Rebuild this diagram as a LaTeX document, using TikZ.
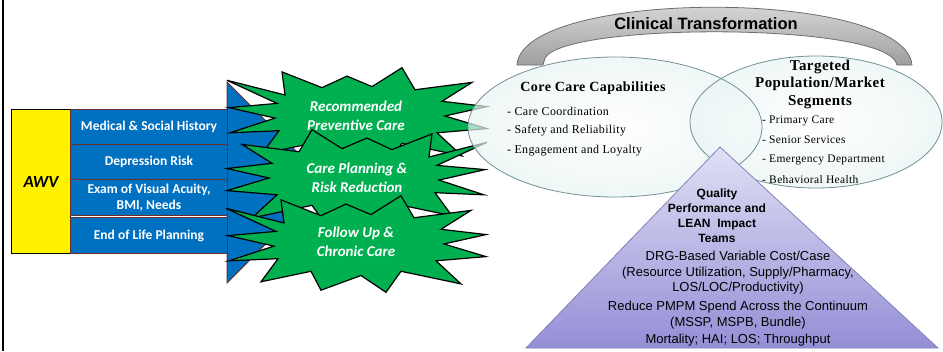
\documentclass[tikz,border=0pt]{standalone}
\usepackage{fontspec}
\setmainfont{Liberation Sans}
\newfontfamily\carl{Carlito}
\newfontfamily\lsans{Liberation Sans}
\newfontfamily\pal[LetterSpace=3]{Liberation Serif}
\definecolor{awvblue}{RGB}{0,112,192}
\definecolor{boxedge}{RGB}{110,45,45}
\definecolor{burstgreen}{RGB}{0,176,80}
\definecolor{ellfill}{RGB}{196,224,226}
\definecolor{ellmid}{RGB}{234,245,245}
\definecolor{elledge}{RGB}{115,145,150}
\definecolor{arcedge}{RGB}{110,110,110}
\definecolor{tritop}{RGB}{224,224,245}
\definecolor{tribot}{RGB}{148,143,214}
\definecolor{triedge}{RGB}{130,130,185}
\pgfdeclareradialshading{ellshade}{\pgfpoint{0bp}{0bp}}{color(0bp)=(white); color(24bp)=(ellmid); color(50bp)=(ellfill); color(100bp)=(ellfill)}
\tikzset{
  rowbox/.style={draw=boxedge, fill=awvblue, line width=1pt, text=white,
    font=\carl\bfseries\fontsize{13.5}{16}\selectfont, align=center,
    inner sep=0pt, minimum width=157pt, anchor=north west},
  awvbox/.style={draw=black, fill=yellow, line width=1pt,
    font=\carl\bfseries\itshape\fontsize{17}{20}\selectfont,
    inner sep=0pt, minimum width=59pt, minimum height=144pt, anchor=north west},
  bursttext/.style={text=white, font=\carl\bfseries\itshape\fontsize{15}{19}\selectfont, align=center, inner sep=0pt},
  burstpath/.style={fill=burstgreen, draw=black, line width=1.2pt, line join=miter},
  ptitle/.style={font=\pal\bfseries\fontsize{14}{17.5}\selectfont, align=center, inner sep=0pt},
  pitem/.style={font=\pal\fontsize{12}{14}\selectfont, anchor=west, inner sep=0pt},
  ritem/.style={pitem, font=\pal\fontsize{11.5}{14}\selectfont},
  ttitle/.style={font=\lsans\bfseries\fontsize{12}{15}\selectfont, align=center, inner sep=0pt},
  tbody/.style={font=\lsans\fontsize{13}{15.5}\selectfont, align=center, inner sep=0pt},
  ellshape/.style={shading=ellshade, fill opacity=0.7},
  burst/.pic={\path[burstpath] (-130,-34) -- (-72,-20) -- (-75,-42) -- (-35,-27) -- (-10,-38)
     -- (15,-28) -- (45,-46) -- (58,-25) -- (115,-32) -- (85,-14) -- (130,-9) -- (88,0)
     -- (130,12) -- (80,16) -- (105,38) -- (45,26) -- (30,46) -- (5,30) -- (-35,44)
     -- (-45,26) -- (-95,36) -- (-78,14) -- (-127,16) -- (-82,2) -- (-128,-8) -- (-80,-12) -- cycle;}
}
\begin{document}
\begin{tikzpicture}[x=1pt,y=-1pt]
\useasboundingbox (0,0) rectangle (943,351);
\fill[white] (0,0) rectangle (943,351);
% left border line
\draw[line width=2pt] (3,0) -- (3,351);
% blue wedge
\path[fill=awvblue, draw=boxedge, line width=1pt] (227,82) -- (327,182) -- (227,283) -- cycle;
% AWV rows
\node[awvbox] (awv) at (11,109) {AWV};
\node[rowbox, minimum height=35pt] (r1) at (70,109) {Medical \& Social History};
\node[rowbox, minimum height=35pt] (r2) at (70,144) {Depression Risk};
\node[rowbox, minimum height=36pt] (r3) at (70,179) {Exam of Visual Acuity,\\BMI, Needs};
\node[rowbox, minimum height=36pt] (r4) at (70,217) {End of Life Planning};
% bursts
\pic[yscale=1.05] at (357,116) {burst};
\pic[xscale=-1, yscale=1.05] at (357,178) {burst};
\pic[yscale=1.05] at (356,244) {burst};
\node[bursttext] (s1) at (356,115.5) {Recommended\\Preventive Care};
\node[bursttext] (s2) at (357,177.5) {Care Planning \&\\Risk Reduction};
\node[bursttext] (s3) at (356,241.5) {Follow Up \&\\Chronic Care};
% ellipses
\path[ellshape] (615,127) ellipse [x radius=147pt, y radius=70pt];
\path[ellshape] (816,122) ellipse [x radius=126pt, y radius=66pt];
\draw[elledge, line width=0.8pt] (615,127) ellipse [x radius=147pt, y radius=70pt];
\draw[elledge, line width=0.8pt] (816,122) ellipse [x radius=126pt, y radius=66pt];
% arc
\shade[top color=black!10, bottom color=black!38, draw=arcedge, line width=0.8pt]
  (517,65) .. controls (522,-12) and (905,-12) .. (912,65) -- (897,65)
  .. controls (890,22) and (565,22) .. (545,58) -- (543,65) -- cycle;
\node[font=\lsans\bfseries\fontsize{16.5}{19}\selectfont, inner sep=0pt] (ct) at (706,24) {Clinical Transformation};
% ellipse texts
\node[ptitle] (cc) at (593,88) {Core Care Capabilities};
\node[pitem] (c1) at (507,111) {- Care Coordination};
\node[pitem] (c2) at (507,131) {- Safety and Reliability};
\node[pitem] (c3) at (507,151) {- Engagement and Loyalty};
\node[ptitle, font=\pal\bfseries\fontsize{15}{17.5}\selectfont] (tp) at (820,84) {Targeted\\Population/Market\\Segments};
% triangle
\shade[top color=tritop, bottom color=tribot, draw=triedge, line width=0.8pt]
  (720,147) -- (938,348) -- (526,348) -- cycle;
\node[ritem] (t1) at (762,121) {- Primary Care};
\node[ritem] (t2) at (762,140) {- Senior Services};
\node[ritem] (t3) at (762,160) {- Emergency Department};
\node[ritem] (t4) at (762,180) {- Behavioral Health};
\node[ttitle] (q) at (717,216) {Quality\\Performance and\\LEAN\ \ Impact\\Teams};
\node[tbody] (drg) at (738,273) {DRG-Based Variable Cost/Case\\(Resource Utilization, Supply/Pharmacy,\\LOS/LOC/Productivity)};
\node[tbody] (pm) at (738,315) {Reduce PMPM Spend Across the Continuum\\(MSSP, MSPB, Bundle)};
\node[tbody] (mo) at (738,340) {Mortality; HAI; LOS; Throughput};
\end{tikzpicture}
\end{document}
